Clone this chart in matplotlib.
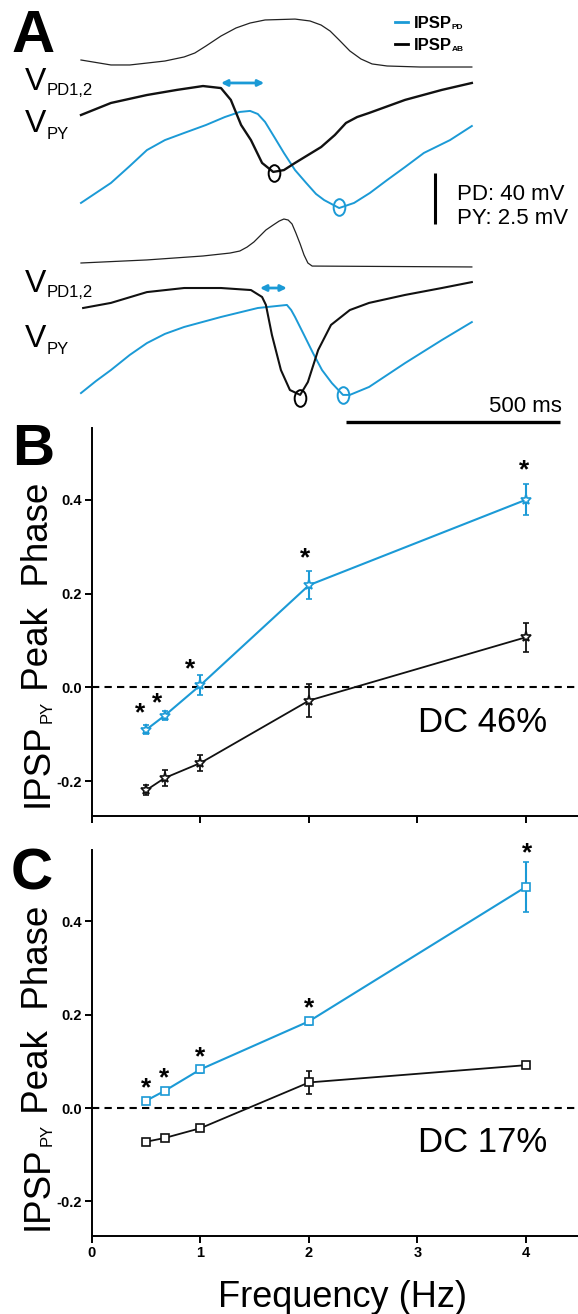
import matplotlib
matplotlib.use('Agg')
import matplotlib.pyplot as plt
from matplotlib.path import Path

plt.rcParams['font.family'] = ['Liberation Sans', 'DejaVu Sans']

BLUE = '#1b9ad6'
W, H = 578, 1314

# ---- panel B / C data (phase of IPSP peak vs frequency) ----
freq = [0.5, 0.67, 1, 2, 4]

b_pd = [-0.090, -0.060, 0.005, 0.218, 0.400]
b_pd_err = [0.009, 0.010, 0.022, 0.030, 0.033]
b_ab = [-0.219, -0.193, -0.161, -0.028, 0.107]
b_ab_err = [0.011, 0.017, 0.018, 0.035, 0.031]
b_star_x = [0.44, 0.60, 0.90, 1.96, 3.98]
b_star_y = [-0.055, -0.033, 0.039, 0.276, 0.463]

c_pd = [0.016, 0.037, 0.083, 0.186, 0.474]
c_pd_err = [0.006, 0.006, 0.008, 0.008, 0.054]
c_ab = [-0.072, -0.064, -0.043, 0.055, 0.092]
c_ab_err = [0.005, 0.005, 0.006, 0.025, 0.006]
c_star_x = [0.50, 0.66, 1.00, 2.00, 4.01]
c_star_y = [0.043, 0.064, 0.109, 0.214, 0.545]

yticks = [-0.2, 0.0, 0.2, 0.4]
ytick_labels = ['-0.2', '0.0', '0.2', '0.4']
xticks = [0, 1, 2, 3, 4]

# ---- panel A traces: time (ms), PD in mV, PY in mV (relative) ----
a1_pd_t = [0, 70, 114, 154, 196, 241, 266, 292, 327, 362, 395, 430, 500, 535, 561, 582,
           603, 628, 654, 680, 715, 792, 913]
a1_pd_v = [0, -3.9, -3.9, -2.4, -0.8, 2.4, 5.5, 11.0, 18.8, 25.1, 29.0, 31.4, 32.1, 30.6,
           27.4, 22.7, 15.7, 7.1, 0.8, -3.1, -4.7, -5.5, -5.5]

a1_ab_t = [0, 70, 154, 224, 285, 327, 350, 374, 397, 423, 449, 474, 500, 561, 593, 619, 645,
           673, 757, 843, 913]
a1_ab_v = [0, 0.59, 0.98, 1.23, 1.42, 1.32, 0.74, -0.49, -1.23, -2.35, -2.79, -2.70, -2.35,
           -1.57, -0.98, -0.39, -0.10, 0.10, 0.74, 1.23, 1.57]

a1_pdpy_t = [0, 35, 70, 114, 154, 196, 241, 292, 336, 371, 395, 413, 430, 453, 474, 500, 526,
             549, 568, 603, 638, 675, 715, 757, 801, 862, 913]
a1_pdpy_v = [-4.31, -3.82, -3.33, -2.50, -1.72, -1.23, -0.88, -0.49, -0.10, 0.15, 0.20, 0.05,
             -0.34, -1.13, -1.86, -2.70, -3.33, -3.87, -4.17, -4.56, -4.31, -3.82, -3.19,
             -2.55, -1.86, -1.23, -0.54]

a2_pd_t = [0, 154, 285, 348, 371, 388, 404, 418, 432, 449, 463, 474, 484, 493, 502, 512, 521,
           530, 540, 913]
a2_pd_v = [0, 2.4, 5.5, 7.8, 9.4, 12.5, 16.5, 21.2, 25.9, 29.8, 32.9, 34.5, 33.7, 30.6, 23.5,
           14.9, 6.3, 0, -2.4, -3.1]

a2_ab_t = [5, 70, 154, 241, 327, 397, 423, 432, 446, 467, 488, 512, 530, 554, 584, 628, 673,
           757, 843, 913]
a2_ab_v = [0, 0.25, 0.78, 0.98, 0.98, 0.88, 0.54, 0.15, -1.32, -3.04, -4.02, -4.26, -3.63,
           -2.06, -0.83, -0.10, 0.25, 0.64, 0.98, 1.27]

a2_pdpy_t = [0, 35, 70, 114, 154, 196, 241, 327, 413, 481, 491, 500, 521, 542, 563, 586, 612,
             628, 673, 757, 843, 913]
a2_pdpy_v = [-4.17, -3.58, -3.04, -2.30, -1.72, -1.27, -0.93, -0.44, 0, 0.15, -0.10, -0.44,
             -1.32, -2.21, -3.04, -3.68, -4.26, -4.26, -3.87, -2.70, -1.57, -0.69]

# trough markers (t, v) and phase arrows (t_start, t_end, v)
a1_ab_min = (451, -2.84)
a1_pd_min = (603, -4.51)
a2_ab_min = (512, -4.41)
a2_pd_min = (612, -4.26)
a1_arrow = (327, 428, 1.57)
a2_arrow = (418, 481, 0.98)

fig = plt.figure(figsize=(W / 100, H / 100), dpi=100)
renderer = fig.canvas.get_renderer()


def fig_text(x, y, s, size, **kw):
    kw.setdefault('ha', 'left')
    kw.setdefault('va', 'baseline')
    return fig.text(x / W, 1 - y / H, s, fontsize=size, **kw)


def sub_label(x, y, main, sub, size, subsize, dy, weight='normal'):
    t = fig_text(x, y, main, size, weight=weight)
    w = t.get_window_extent(renderer).width
    fig_text(x + w, y + dy, sub, subsize, weight=weight)


def rot_label(x, y, parts):
    for s, size, dx in parts:
        t = fig_text(x + dx, y, s, size, rotation=90, rotation_mode='anchor')
        y -= t.get_window_extent(renderer).height


# ------------------------- panel A -------------------------
ax_a = fig.add_axes([0, 1 - 430 / H, 1, 430 / H])
ax_a.set_xlim(-189.2, 1161)
ax_a.set_ylim(-430 / 20.4, 0)
ax_a.axis('off')

pd_scale = 2.5 / 40
off_a1_pd, off_a1_py = -60 / 20.4, -115 / 20.4
off_a2_pd, off_a2_py = -263 / 20.4, -308 / 20.4

ax_a.plot(a1_pd_t, [off_a1_pd + v * pd_scale for v in a1_pd_v], color='#222222', lw=0.9)
ax_a.plot(a1_pdpy_t, [off_a1_py + v for v in a1_pdpy_v], color=BLUE, lw=1.4)
ax_a.plot(a1_ab_t, [off_a1_py + v for v in a1_ab_v], color='#111111', lw=1.7)
ax_a.plot(a2_pd_t, [off_a2_pd + v * pd_scale for v in a2_pd_v], color='#222222', lw=0.9)
ax_a.plot(a2_pdpy_t, [off_a2_py + v for v in a2_pdpy_v], color=BLUE, lw=1.4)
ax_a.plot(a2_ab_t, [off_a2_py + v for v in a2_ab_v], color='#111111', lw=1.5)

circ = Path.unit_circle()
oval = Path(circ.vertices * [0.7, 1.0], circ.codes)
for (t, v), off, col in [(a1_ab_min, off_a1_py, 'black'), (a1_pd_min, off_a1_py, BLUE),
                         (a2_ab_min, off_a2_py, 'black'), (a2_pd_min, off_a2_py, BLUE)]:
    ax_a.plot(t, off + v, marker=oval, ms=12, mfc='none', mec=col, mew=1.4)

for (t1, t2, v), off in [(a1_arrow, off_a1_py), (a2_arrow, off_a2_py)]:
    ax_a.annotate('', xy=(t2, off + v), xytext=(t1, off + v),
                  arrowprops=dict(arrowstyle='<|-|>', color=BLUE, lw=2,
                                  mutation_scale=9, shrinkA=0, shrinkB=0))

# scale bars: 2.5 mV (PY) / 40 mV (PD), 500 ms
ax_a.plot([827, 827], [-8.48, -8.48 - 2.5], color='black', lw=2.2, solid_capstyle='butt')
ax_a.plot([619, 619 + 500], [-20.69, -20.69], color='black', lw=2.4, solid_capstyle='butt')

# legend handles
ax_a.plot([733, 764], [-22 / 20.4, -22 / 20.4], color=BLUE, lw=2)
ax_a.plot([733, 764], [-44 / 20.4, -44 / 20.4], color='black', lw=2)

fig_text(457, 200, 'PD: 40 mV', 16)
fig_text(457, 224, 'PY: 2.5 mV', 16)
fig_text(562, 412, '500 ms', 16, ha='right')

sub_label(414, 28, 'IPSP', 'PD', 12, 6, 1, weight='bold')
sub_label(414, 50, 'IPSP', 'AB', 12, 6, 1, weight='bold')

sub_label(25, 90, 'V', 'PD1,2', 23, 12, 5)
sub_label(25, 132, 'V', 'PY', 23, 12, 7)
sub_label(25, 292, 'V', 'PD1,2', 23, 12, 5)
sub_label(25, 347, 'V', 'PY', 23, 12, 7)

fig_text(12, 52, 'A', 43, weight='bold')
fig_text(12, 465, 'B', 42, weight='bold')
fig_text(11, 889, 'C', 42, weight='bold')


# ------------------------- panels B, C -------------------------
def phase_panel(top, bottom, pd, pd_err, ab, ab_err, sx, sy, marker, ms, dc):
    ax = fig.add_axes([92 / W, 1 - bottom / H, (W - 92) / W, (bottom - top) / H])
    ax.set_xlim(0, 4.48)
    ax.set_ylim(-0.274, 0.553)
    for side in ['top', 'right']:
        ax.spines[side].set_visible(False)
    for side in ['left', 'bottom']:
        ax.spines[side].set_linewidth(1.4)
    ax.axhline(0, color='black', lw=1.5, ls=(0, (3.5, 2.5)), zorder=1)
    ax.errorbar(freq, ab, yerr=ab_err, color='#111111', lw=1.3, marker=marker, ms=ms,
                mfc='white', mec='#111111', mew=1.2, capsize=2.5, capthick=1.2, zorder=3)
    ax.errorbar(freq, pd, yerr=pd_err, color=BLUE, lw=1.5, marker=marker, ms=ms,
                mfc='white', mec=BLUE, mew=1.2, capsize=2.5, capthick=1.2, zorder=4)
    for x, y in zip(sx, sy):
        ax.text(x, y, '*', fontsize=19, fontweight='bold', ha='center', va='center',
                clip_on=False)
    ax.set_yticks(yticks)
    ax.set_yticklabels(ytick_labels, fontsize=10.5, fontweight='bold')
    ax.set_xticks(xticks)
    ax.tick_params(direction='out', length=5, width=1.4, pad=2)
    ax.text(3.6, -0.074, dc, fontsize=25, ha='center', va='center')
    return ax


ax_b = phase_panel(428, 816, b_pd, b_pd_err, b_ab, b_ab_err, b_star_x, b_star_y, '*', 8,
                   'DC 46%')
ax_b.set_xticklabels([])
ax_c = phase_panel(850, 1236, c_pd, c_pd_err, c_ab, c_ab_err, c_star_x, c_star_y, 's', 6,
                   'DC 17%')
ax_c.set_xticklabels([str(x) for x in xticks], fontsize=10.5, fontweight='bold')

for y0 in [807, 1230]:
    rot_label(48, y0, [('IPSP', 26.5, 0), ('PY', 12, 4), (' Peak  Phase', 26.5, 0)])

fig_text(343, 1307, 'Frequency (Hz)', 26, ha='center')

fig.savefig('out.png', dpi=100, facecolor='white')
